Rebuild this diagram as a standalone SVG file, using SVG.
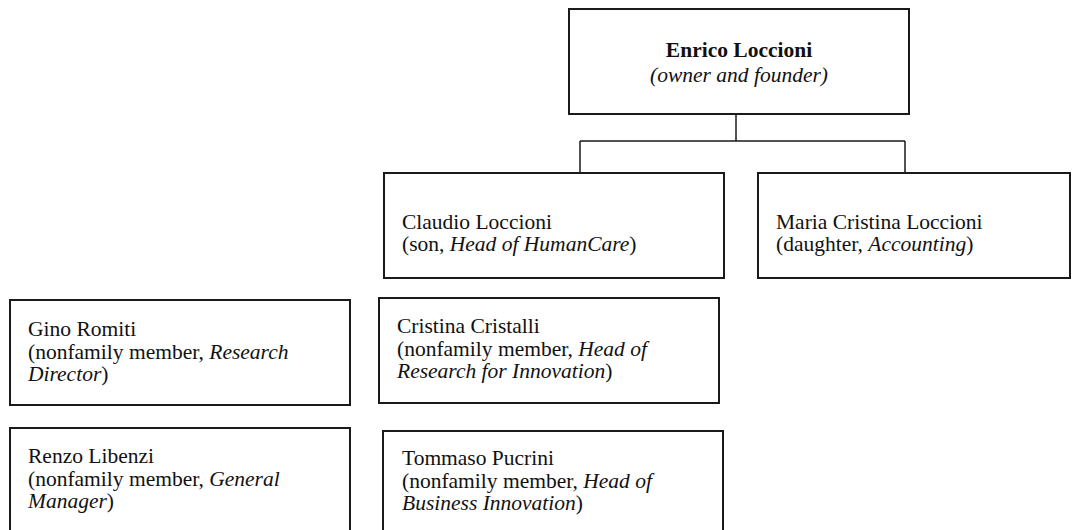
<svg xmlns="http://www.w3.org/2000/svg" width="1087" height="530" viewBox="0 0 1087 530">
<style>
.box{fill:#fff;stroke:#1a1a1a;stroke-width:2}
.t{font-family:"Liberation Serif","Times New Roman",serif;font-size:21.5px;fill:#111}
.b{font-weight:bold}
.i{font-style:italic}
.c{stroke:#1a1a1a;stroke-width:1.5;fill:none}
</style>
<rect width="1087" height="530" fill="#fff"/>
<g id="connectors">
<path class="c" d="M736 114V141M580 141H905M580 141V173M905 141V173"/>
</g>
<g id="enrico">
<rect class="box" x="569" y="9" width="340" height="105"/>
<text class="t b" x="739" y="57" text-anchor="middle">Enrico Loccioni</text>
<text class="t i" x="739" y="82" text-anchor="middle">(owner and founder)</text>
</g>
<g id="claudio">
<rect class="box" x="384" y="173" width="340" height="105"/>
<text class="t" x="402" y="229">Claudio Loccioni</text>
<text class="t" x="402" y="251">(son, <tspan class="i">Head of HumanCare</tspan>)</text>
</g>
<g id="maria">
<rect class="box" x="758" y="173" width="312" height="105"/>
<text class="t" x="776" y="229">Maria Cristina Loccioni</text>
<text class="t" x="776" y="251">(daughter, <tspan class="i">Accounting</tspan>)</text>
</g>
<g id="gino">
<rect class="box" x="10" y="300" width="340" height="105"/>
<text class="t" x="28" y="336">Gino Romiti</text>
<text class="t" x="28" y="358.5">(nonfamily member, <tspan class="i">Research</tspan></text>
<text class="t" x="28" y="381"><tspan class="i">Director</tspan>)</text>
</g>
<g id="cristina">
<rect class="box" x="379" y="298" width="340" height="105"/>
<text class="t" x="397" y="333">Cristina Cristalli</text>
<text class="t" x="397" y="355.5">(nonfamily member, <tspan class="i">Head of</tspan></text>
<text class="t" x="397" y="378"><tspan class="i">Research for Innovation</tspan>)</text>
</g>
<g id="renzo">
<rect class="box" x="10" y="428" width="340" height="110"/>
<text class="t" x="28" y="463">Renzo Libenzi</text>
<text class="t" x="28" y="485.5">(nonfamily member, <tspan class="i">General</tspan></text>
<text class="t" x="28" y="508"><tspan class="i">Manager</tspan>)</text>
</g>
<g id="tommaso">
<rect class="box" x="383" y="431" width="340" height="110"/>
<text class="t" x="402" y="465">Tommaso Pucrini</text>
<text class="t" x="402" y="487.5">(nonfamily member, <tspan class="i">Head of</tspan></text>
<text class="t" x="402" y="510"><tspan class="i">Business Innovation</tspan>)</text>
</g>
</svg>
